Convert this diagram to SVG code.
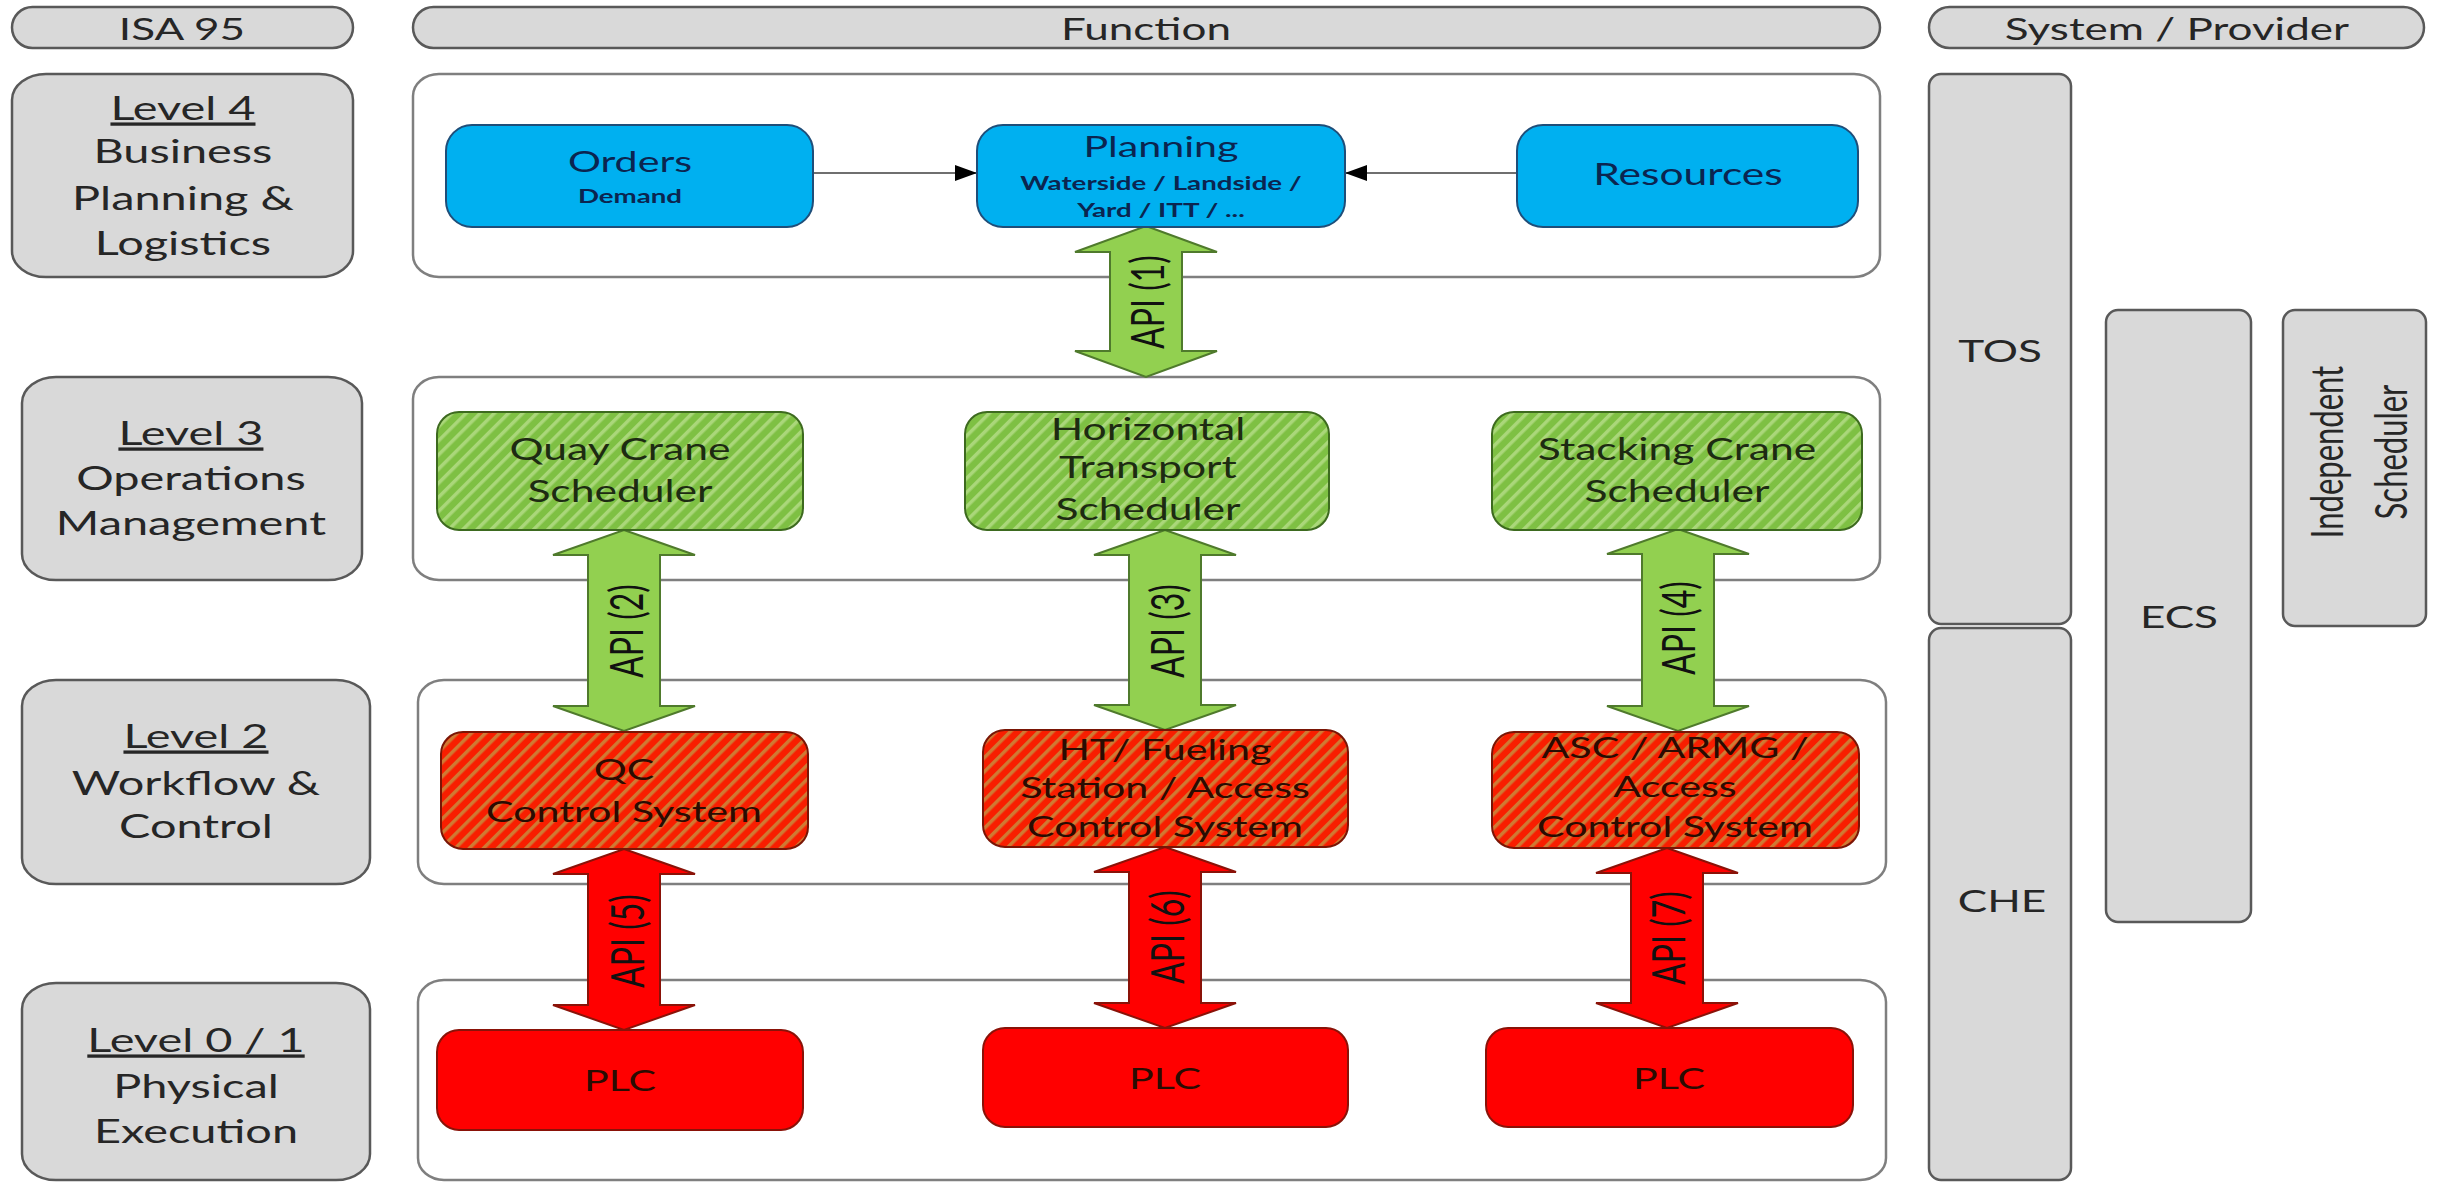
<svg xmlns="http://www.w3.org/2000/svg" width="2445" height="1184" viewBox="0 0 2445 1184">
<defs>
<style>
.f{font-family:Lato,Carlito,"Liberation Sans",sans-serif;text-anchor:middle}
.s{transform-box:fill-box;transform-origin:center;transform:scaleX(1.42)}
.gray{fill:#d9d9d9;stroke:#595959;stroke-width:2.5}
.cont{fill:#ffffff;stroke:#7f7f7f;stroke-width:2.5}
.hdr{font-size:31px;fill:#262626}
.lvl{font-size:33px;fill:#262626}
.u{text-decoration:underline}
.blue{fill:#00b0f0;stroke:#1f4e79;stroke-width:2}
.bt{fill:#0b2550}
.btb{font-size:19.5px;font-weight:bold;fill:#0b2550}
.green{fill:url(#hg);stroke:#3d6a1f;stroke-width:2}
.gt{font-size:30px;fill:#1d2b12}
.redh{fill:url(#hr);stroke:#7a1505;stroke-width:2}
.rt{font-size:29px;fill:#2a0c02}
.red{fill:#ff0000;stroke:#8a1208;stroke-width:2}
.sys{font-size:31px;fill:#262626}
.ga{fill:#92d050;stroke:#4f7a2c;stroke-width:2}
.ra{fill:#ff0000;stroke:#8a1208;stroke-width:2}
.api{font-size:32px;fill:#111}
.ln{stroke:#6f6f6f;stroke-width:2;fill:none}
</style>
<pattern id="hg" patternUnits="userSpaceOnUse" width="10" height="10" patternTransform="rotate(45)">
<rect width="10" height="10" fill="#7ec043"/>
<rect width="3.5" height="10" fill="#aad77a"/>
</pattern>
<pattern id="hr" patternUnits="userSpaceOnUse" width="10" height="10" patternTransform="rotate(45)">
<rect width="10" height="10" fill="#f81e00"/>
<rect width="3.5" height="10" fill="#cf7a33"/>
</pattern>
<marker id="ah" markerUnits="userSpaceOnUse" markerWidth="22" markerHeight="16" viewBox="0 0 22 16" refX="22" refY="8" orient="auto">
<path d="M0,0 L22,8 L0,16 Z" fill="#000"/>
</marker>
</defs>
<rect width="2445" height="1184" fill="#ffffff"/>

<g id="headers">
<g id="hdr-isa"><rect class="gray" x="12" y="7" width="341" height="41" rx="20.5"/><text class="f s hdr" x="182" y="40">ISA 95</text></g>
<g id="hdr-function"><rect class="gray" x="413" y="7" width="1467" height="41" rx="20.5"/><text class="f s hdr" x="1146" y="40">Function</text></g>
<g id="hdr-system"><rect class="gray" x="1929" y="7" width="495" height="41" rx="20.5"/><text class="f s hdr" x="2177" y="40">System / Provider</text></g>
</g>

<g id="level4"><rect class="gray" x="12" y="74" width="341" height="203" rx="34" ry="26"/>
<text class="f s lvl" x="183" y="120"><tspan class="u">Level 4</tspan><tspan x="183" y="163">Business</tspan><tspan x="183" y="210">Planning &amp;</tspan><tspan x="183" y="255">Logistics</tspan></text></g>
<g id="level3"><rect class="gray" x="22" y="377" width="340" height="203" rx="34" ry="26"/>
<text class="f s lvl" x="191" y="445"><tspan class="u">Level 3</tspan><tspan x="191" y="490">Operations</tspan><tspan x="191" y="535">Management</tspan></text></g>
<g id="level2"><rect class="gray" x="22" y="680" width="348" height="204" rx="34" ry="26"/>
<text class="f s lvl" x="196" y="748"><tspan class="u">Level 2</tspan><tspan x="196" y="795">Workflow &amp;</tspan><tspan x="196" y="838">Control</tspan></text></g>
<g id="level01"><rect class="gray" x="22" y="983" width="348" height="197" rx="34" ry="26"/>
<text class="f s lvl" x="196" y="1052"><tspan class="u">Level 0 / 1</tspan><tspan x="196" y="1098">Physical</tspan><tspan x="196" y="1143">Execution</tspan></text></g>

<g id="lane4"><rect class="cont" x="413" y="74" width="1467" height="203" rx="26" ry="22"/></g>
<g id="lane3"><rect class="cont" x="413" y="377" width="1467" height="203" rx="26" ry="22"/></g>
<g id="lane2"><rect class="cont" x="418" y="680" width="1468" height="204" rx="26" ry="22"/></g>
<g id="lane01"><rect class="cont" x="418" y="980" width="1468" height="200" rx="26" ry="22"/></g>

<g id="tos"><rect class="gray" x="1929" y="74" width="142" height="550" rx="12"/><text class="f s sys" x="2000" y="362">TOS</text></g>
<g id="che"><rect class="gray" x="1929" y="628" width="142" height="552" rx="12"/><text class="f s sys" x="2002" y="912">CHE</text></g>
<g id="ecs"><rect class="gray" x="2106" y="310" width="145" height="612" rx="12"/><text class="f s sys" x="2179" y="628">ECS</text></g>
<g id="indep"><rect class="gray" x="2283" y="310" width="143" height="316" rx="12"/>
<text class="f sys" transform="translate(2354,452) scale(1.42,1) rotate(-90)" x="0" y="-8" font-size="32">Independent<tspan x="0" y="37">Scheduler</tspan></text></g>

<g id="connectors">
<line class="ln" x1="813" y1="173" x2="977" y2="173" marker-end="url(#ah)"/>
<line class="ln" x1="1517" y1="173" x2="1345" y2="173" marker-end="url(#ah)"/>
<g id="api1"><path class="ga" d="M1146,226 L1217,252 L1182,252 L1182,351 L1217,351 L1146,377 L1075,351 L1110,351 L1110,252 L1075,252 Z"/><text class="f api" transform="translate(1148,302) scale(1.42,1) rotate(-90)" x="0" y="11">API (1)</text></g>
<g id="api2"><path class="ga" d="M624,530 L695,555 L660,555 L660,706 L695,706 L624,731 L553,706 L588,706 L588,555 L553,555 Z"/><text class="f api" transform="translate(627,631) scale(1.42,1) rotate(-90)" x="0" y="11">API (2)</text></g>
<g id="api3"><path class="ga" d="M1165,530 L1236,555 L1201,555 L1201,705 L1236,705 L1165,730 L1094,705 L1129,705 L1129,555 L1094,555 Z"/><text class="f api" transform="translate(1168,631) scale(1.42,1) rotate(-90)" x="0" y="11">API (3)</text></g>
<g id="api4"><path class="ga" d="M1678,529 L1749,554 L1714,554 L1714,706 L1749,706 L1678,731 L1607,706 L1642,706 L1642,554 L1607,554 Z"/><text class="f api" transform="translate(1679,628) scale(1.42,1) rotate(-90)" x="0" y="11">API (4)</text></g>
<g id="api5"><path class="ra" d="M624,849 L695,874 L660,874 L660,1005 L695,1005 L624,1030 L553,1005 L588,1005 L588,874 L553,874 Z"/><text class="f api" transform="translate(628,941) scale(1.42,1) rotate(-90)" x="0" y="11">API (5)</text></g>
<g id="api6"><path class="ra" d="M1165,847 L1236,872 L1201,872 L1201,1003 L1236,1003 L1165,1028 L1094,1003 L1129,1003 L1129,872 L1094,872 Z"/><text class="f api" transform="translate(1168,937) scale(1.42,1) rotate(-90)" x="0" y="11">API (6)</text></g>
<g id="api7"><path class="ra" d="M1667,848 L1738,873 L1703,873 L1703,1003 L1738,1003 L1667,1028 L1596,1003 L1631,1003 L1631,873 L1596,873 Z"/><text class="f api" transform="translate(1669,938) scale(1.42,1) rotate(-90)" x="0" y="11">API (7)</text></g>
</g>

<g id="orders"><rect class="blue" x="446" y="125" width="367" height="102" rx="26"/>
<text class="f s bt" x="630" y="172" font-size="29">Orders</text><text class="f s btb" x="630" y="203">Demand</text></g>
<g id="planning"><rect class="blue" x="977" y="125" width="368" height="102" rx="26"/>
<text class="f s bt" x="1161" y="157" font-size="29">Planning</text><text class="f s btb" x="1161" y="190">Waterside / Landside /<tspan x="1161" y="217">Yard / ITT / ...</tspan></text></g>
<g id="resources"><rect class="blue" x="1517" y="125" width="341" height="102" rx="26"/>
<text class="f s bt" x="1688" y="185" font-size="30">Resources</text></g>

<g id="qcs"><rect class="green" x="437" y="412" width="366" height="118" rx="22"/>
<text class="f s gt" x="620" y="460">Quay Crane<tspan x="620" y="502">Scheduler</tspan></text></g>
<g id="hts"><rect class="green" x="965" y="412" width="364" height="118" rx="22"/>
<text class="f s gt" x="1148" y="440">Horizontal<tspan x="1148" y="478">Transport</tspan><tspan x="1148" y="520">Scheduler</tspan></text></g>
<g id="scs"><rect class="green" x="1492" y="412" width="370" height="118" rx="22"/>
<text class="f s gt" x="1677" y="460">Stacking Crane<tspan x="1677" y="502">Scheduler</tspan></text></g>

<g id="qcc"><rect class="redh" x="441" y="732" width="367" height="117" rx="22"/>
<text class="f s rt" x="624" y="780">QC<tspan x="624" y="822">Control System</tspan></text></g>
<g id="htc"><rect class="redh" x="983" y="730" width="365" height="117" rx="22"/>
<text class="f s rt" x="1165" y="760">HT/ Fueling<tspan x="1165" y="798">Station / Access</tspan><tspan x="1165" y="837">Control System</tspan></text></g>
<g id="ascc"><rect class="redh" x="1492" y="732" width="367" height="116" rx="22"/>
<text class="f s rt" x="1675" y="758">ASC / ARMG /<tspan x="1675" y="797">Access</tspan><tspan x="1675" y="837">Control System</tspan></text></g>

<g id="plc1"><rect class="red" x="437" y="1030" width="366" height="100" rx="22"/><text class="f s rt" x="620" y="1091">PLC</text></g>
<g id="plc2"><rect class="red" x="983" y="1028" width="365" height="99" rx="22"/><text class="f s rt" x="1165" y="1089">PLC</text></g>
<g id="plc3"><rect class="red" x="1486" y="1028" width="367" height="99" rx="22"/><text class="f s rt" x="1669" y="1089">PLC</text></g>
</svg>
